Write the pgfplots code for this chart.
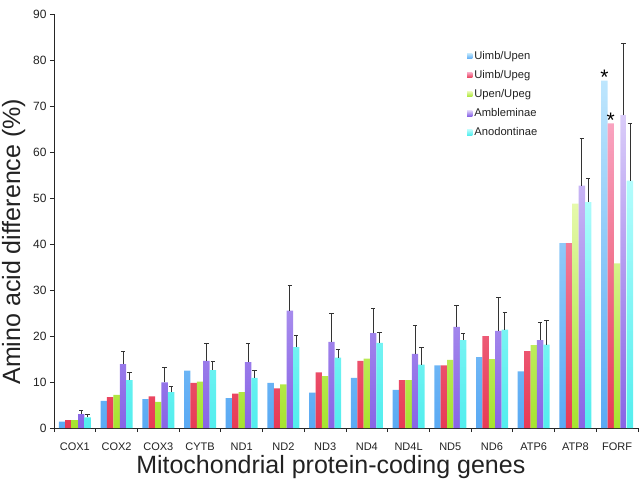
\documentclass[border=0pt]{standalone}
\usepackage{fontspec}
\setmainfont{Liberation Sans}
\usepackage{pgfplots}
\pgfplotsset{compat=1.18}
\usepackage{pgfplotstable}

\definecolor{blueTop}{HTML}{BEE6FD}
\definecolor{blueBot}{HTML}{5AAAF4}
\definecolor{redTop}{HTML}{F9A4C0}
\definecolor{redBot}{HTML}{E83A55}
\definecolor{greenTop}{HTML}{E6F9AC}
\definecolor{greenBot}{HTML}{A6E42E}
\definecolor{purpTop}{HTML}{DACCF9}
\definecolor{purpBot}{HTML}{8864E6}
\definecolor{cyanTop}{HTML}{B4FCFC}
\definecolor{cyanBot}{HTML}{52EEEE}
\definecolor{txt}{HTML}{222222}

\pgfplotstableread{
x  A    B    C    D    Derr E    Eerr labA labB
0  1.4  1.7  1.7  3.0  0.9  2.3  0.7  {}   {}
1  5.9  6.7  7.2  13.9 2.8  10.4 1.7  {}   {}
2  6.3  6.9  5.7  9.9  3.3  7.8  1.3  {}   {}
3  12.5 9.8  10.1 14.6 3.7  12.6 1.8  {}   {}
4  6.5  7.5  7.8  14.3 4.2  10.9 1.6  {}   {}
5  9.8  8.6  9.5  25.5 5.4  17.6 2.5  {}   {}
6  7.7  12.1 11.3 18.7 6.2  15.3 1.8  {}   {}
7  10.9 14.6 15.1 20.6 5.5  18.5 2.3  {}   {}
8  8.3  10.4 10.4 16.1 6.2  13.8 3.7  {}   {}
9  13.6 13.6 14.8 22.0 4.6  19.1 1.55 {}   {}
10 15.4 20.0 15.0 21.1 7.3  21.4 3.8  {}   {}
11 12.3 16.7 18.0 19.1 3.8  18.1 5.2  {}   {}
12 40.2 40.2 48.8 52.7 10.3 49.1 5.2  {}   {}
13 75.5 66.2 35.8 68.0 15.6 53.8 12.4 *    *
}\data

\begin{document}
\begin{tikzpicture}
\path[use as bounding box] (-54bp,-58bp) rectangle (586bp,428bp);
\begin{axis}[
  at={(0,0)}, anchor=south west,
  scale only axis, width=584bp, height=414bp,
  xmin=-0.5, xmax=13.5, ymin=0, ymax=90,
  axis x line*=bottom, axis y line*=left,
  axis line style={black!85, line width=0.8bp},
  ybar=0pt, bar width=6.4bp,
  xtick={-0.5,0.5,...,13.5}, xticklabels={},
  extra x ticks={0,1,...,13},
  extra x tick labels={COX1,COX2,COX3,CYTB,ND1,ND2,ND3,ND4,ND4L,ND5,ND6,ATP6,ATP8,FORF},
  extra x tick style={major tick length=0pt},
  ytick={0,10,...,90},
  tick align=outside, major tick length=4bp,
  tick style={black!85, line width=0.8bp},
  /pgf/number format/assume math mode=true,
  xticklabel style={font=\fontsize{11bp}{12bp}\selectfont, text=txt, yshift=-11bp},
  yticklabel style={font=\fontsize{12bp}{13bp}\selectfont, text=txt},
  xlabel={Mitochondrial protein-coding genes},
  ylabel={Amino acid difference (\%)},
  xlabel style={at={(axis description cs:0.474,-0.094)}, anchor=center, font=\fontsize{25bp}{28bp}\selectfont, text=txt},
  ylabel style={at={(axis description cs:-0.069,0.45)}, anchor=center, font=\fontsize{25bp}{28bp}\selectfont, text=txt},
  legend style={at={(axis description cs:0.702,0.92)}, anchor=north west, draw=none, fill=none,
    font=\fontsize{11.2bp}{12bp}\selectfont, row sep=5.5bp, text=txt,
    /tikz/every odd column/.append style={column sep=0bp}},
  legend cell align=left,
  legend image code/.code={\fill[#1] (0bp,-2.6bp) rectangle (5.2bp,2.6bp);},
  error bars/error bar style={line width=0.8bp, black!80},
  error bars/error mark options={rotate=90, mark size=2.2bp, line width=0.8bp, black!80},
]
\addplot[draw=none, top color=blueTop, bottom color=blueBot,
  nodes near coords, point meta=explicit symbolic,
  every node near coord/.append style={font=\fontsize{21bp}{21bp}\selectfont, inner sep=0pt, anchor=south, yshift=-4bp, text=black}]
  table[x=x, y=A, meta=labA]{\data};
\addplot[draw=none, top color=redTop, bottom color=redBot,
  nodes near coords, point meta=explicit symbolic,
  every node near coord/.append style={font=\fontsize{21bp}{21bp}\selectfont, inner sep=0pt, anchor=south, yshift=-4bp, text=black}]
  table[x=x, y=B, meta=labB]{\data};
\addplot[draw=none, top color=greenTop, bottom color=greenBot]
  table[x=x, y=C]{\data};
\addplot[draw=none, top color=purpTop, bottom color=purpBot,
  error bars/.cd, y dir=plus, y explicit]
  table[x=x, y=D, y error=Derr]{\data};
\addplot[draw=none, top color=cyanTop, bottom color=cyanBot,
  error bars/.cd, y dir=plus, y explicit]
  table[x=x, y=E, y error=Eerr]{\data};
\legend{Uimb/Upen,Uimb/Upeg,Upen/Upeg,Ambleminae,Anodontinae}
\end{axis}
\end{tikzpicture}
\end{document}
